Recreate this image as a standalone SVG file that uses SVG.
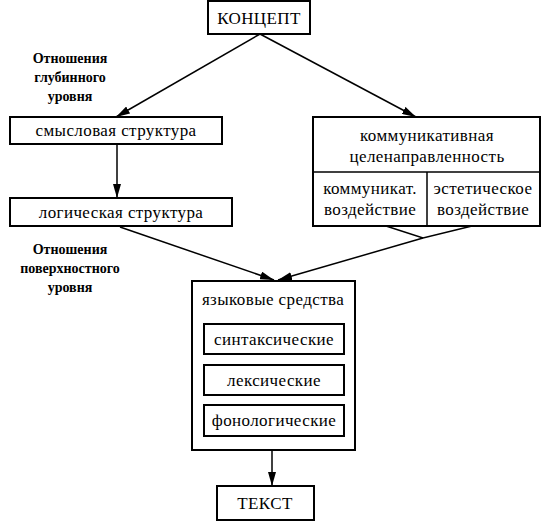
<svg xmlns="http://www.w3.org/2000/svg" width="548" height="528" viewBox="0 0 548 528">
<style>
.b{fill:#fff;stroke:#000;stroke-width:2}
.t{font-family:"Liberation Serif","DejaVu Serif",serif;font-size:17px;letter-spacing:0.4px;fill:#000;text-anchor:middle}
.l{font-family:"Liberation Serif","DejaVu Serif",serif;font-size:14px;font-weight:bold;fill:#000;text-anchor:middle}
.c{stroke:#000;stroke-width:1.5;fill:none}
</style>
<defs>
<marker id="a" viewBox="0 0 14 8" refX="14" refY="4" markerWidth="14" markerHeight="8" markerUnits="userSpaceOnUse" orient="auto">
<path d="M0,0 L14,4 L0,8 Z" fill="#000"/>
</marker>
</defs>
<g id="connectors">
<line class="c" x1="260" y1="34" x2="116" y2="117" marker-end="url(#a)"/>
<line class="c" x1="260" y1="34" x2="416" y2="117" marker-end="url(#a)"/>
<line class="c" x1="117" y1="144" x2="117" y2="198" marker-end="url(#a)"/>
<line class="c" x1="120" y1="227" x2="274" y2="280" marker-end="url(#a)"/>
<polyline class="c" points="386,226 423,238 472,226"/>
<line class="c" x1="423" y1="238" x2="278" y2="280" marker-end="url(#a)"/>
<line class="c" x1="272" y1="450" x2="272" y2="486" marker-end="url(#a)"/>
</g>
<g id="koncept">
<rect class="b" x="208" y="1" width="102" height="33"/>
<text class="t" x="259" y="24" font-size="18">КОНЦЕПТ</text>
</g>
<g id="label-deep">
<text class="l" x="70" y="63">Отношения</text>
<text class="l" x="70" y="82">глубинного</text>
<text class="l" x="70" y="101">уровня</text>
</g>
<g id="smysl">
<rect class="b" x="10" y="117" width="212" height="27"/>
<text class="t" x="116" y="136">смысловая структура</text>
</g>
<g id="logic">
<rect class="b" x="10" y="198" width="222" height="28"/>
<text class="t" x="121" y="218">логическая структура</text>
</g>
<g id="label-surface">
<text class="l" x="70" y="254">Отношения</text>
<text class="l" x="70" y="273">поверхностного</text>
<text class="l" x="70" y="292">уровня</text>
</g>
<g id="komm">
<rect class="b" x="313" y="117" width="227" height="109"/>
<line class="c" stroke-width="2" x1="313" y1="172" x2="540" y2="172"/>
<line class="c" stroke-width="2" x1="427" y1="172" x2="427" y2="226"/>
<text class="t" x="427" y="141">коммуникативная</text>
<text class="t" x="427" y="162">целенаправленность</text>
<text class="t" x="370" y="194">коммуникат.</text>
<text class="t" x="370" y="215">воздействие</text>
<text class="t" x="483" y="194">эстетическое</text>
<text class="t" x="483" y="215">воздействие</text>
</g>
<g id="yazyk">
<rect class="b" x="192" y="281" width="163" height="169"/>
<text class="t" x="273" y="305">языковые средства</text>
</g>
<g id="sintaks">
<rect class="b" x="204" y="324" width="140" height="30"/>
<text class="t" x="274" y="345">синтаксические</text>
</g>
<g id="leks">
<rect class="b" x="204" y="365" width="140" height="30"/>
<text class="t" x="274" y="386">лексические</text>
</g>
<g id="fonol">
<rect class="b" x="204" y="405" width="140" height="31"/>
<text class="t" x="274" y="426">фонологические</text>
</g>
<g id="tekst">
<rect class="b" x="217" y="486" width="97" height="34"/>
<text class="t" x="265" y="509" font-size="17">ТЕКСТ</text>
</g>
</svg>
